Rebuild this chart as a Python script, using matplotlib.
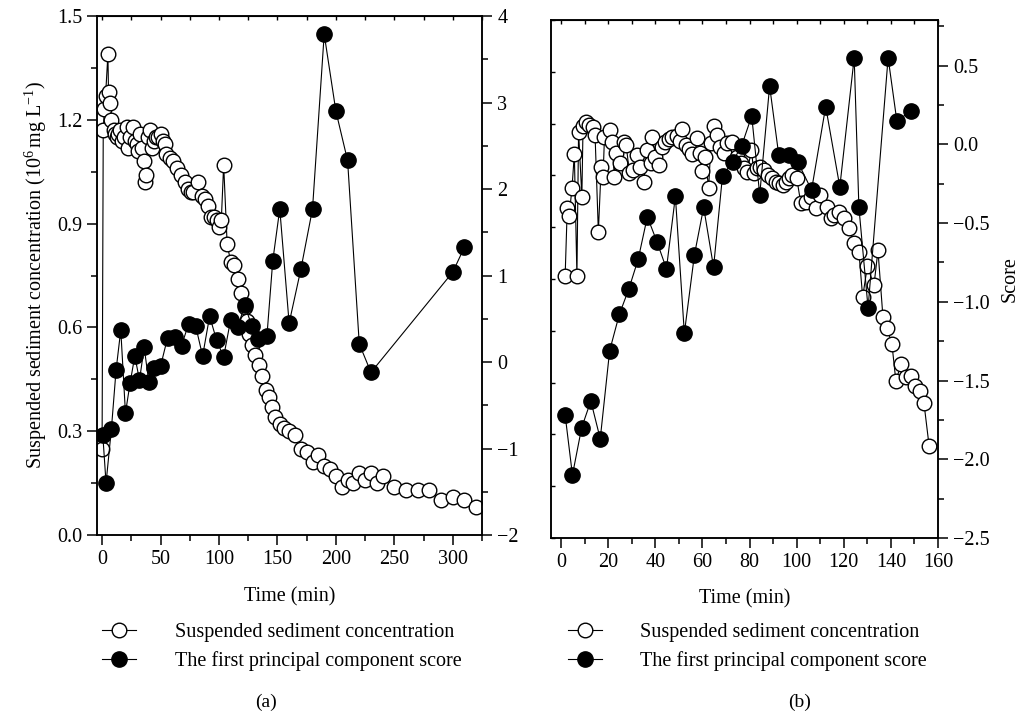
import matplotlib
matplotlib.use('Agg')

import matplotlib.pyplot as plt
from matplotlib.lines import Line2D
from matplotlib.ticker import MultipleLocator, NullFormatter

plt.rcParams['font.family'] = 'serif'
plt.rcParams['font.serif'] = ['Liberation Serif', 'DejaVu Serif']
plt.rcParams['mathtext.fontset'] = 'custom'
plt.rcParams['mathtext.rm'] = 'Liberation Serif'
plt.rcParams['mathtext.it'] = 'Liberation Serif:italic'
plt.rcParams['font.size'] = 14.5

# (a) suspended sediment concentration, 10^6 mg/L
a_ssc_time = [0, 1, 2, 3, 5, 5.5, 7, 8, 10, 11, 12.5, 14, 15.5, 17, 19, 21, 22, 24, 26.5, 28,
              30, 31, 32.5, 34, 36, 37, 38, 39, 41, 42.5, 44, 46.5, 48, 50, 52, 54, 55, 58, 61, 64,
              67.5, 71, 73.5, 76, 78, 82, 85.5, 88, 90.5, 93.5, 96, 98, 100, 102, 104, 107, 110, 113, 116, 119,
              122, 124, 126, 128, 131, 134, 137, 140, 143, 145, 148, 152, 156, 160, 165, 170, 175, 180, 185, 190,
              195, 200, 205, 210, 215, 220, 225, 230, 235, 240, 250, 260, 270, 280, 290, 300, 310, 320]
a_ssc = [0.25, 1.17, 1.23, 1.27, 1.39, 1.28, 1.25, 1.20, 1.17, 1.16, 1.15, 1.16, 1.17, 1.14, 1.15, 1.18, 1.12, 1.15, 1.18, 1.14,
         1.13, 1.11, 1.16, 1.12, 1.08, 1.02, 1.04, 1.15, 1.17, 1.12, 1.14, 1.15, 1.15, 1.16, 1.14, 1.13, 1.10, 1.09, 1.08, 1.06,
         1.04, 1.02, 1.00, 0.99, 0.99, 1.02, 0.98, 0.97, 0.95, 0.92, 0.92, 0.91, 0.89, 0.91, 1.07, 0.84, 0.79, 0.78, 0.74, 0.70,
         0.66, 0.62, 0.58, 0.55, 0.52, 0.49, 0.46, 0.42, 0.40, 0.37, 0.34, 0.32, 0.31, 0.30, 0.29, 0.25, 0.24, 0.21, 0.23, 0.20,
         0.19, 0.17, 0.14, 0.16, 0.15, 0.18, 0.16, 0.18, 0.15, 0.17, 0.14, 0.13, 0.13, 0.13, 0.10, 0.11, 0.10, 0.08]

# (a) first principal component score
a_pc_time = [0.6, 3.4, 8, 12, 16, 20, 24, 28, 32, 36, 40, 44, 50, 56, 62, 68, 74, 80, 86, 92,
             98, 104, 110, 116, 122, 128, 133, 141, 146, 152, 160, 170, 180, 190, 200, 210, 220, 230, 300, 310]
a_pc = [-0.84, -1.40, -0.77, -0.09, 0.37, -0.59, -0.24, 0.07, -0.21, 0.17, -0.23, -0.07, -0.05, 0.28, 0.29, 0.19, 0.44, 0.42, 0.07, 0.53,
        0.25, 0.06, 0.49, 0.40, 0.66, 0.42, 0.27, 0.30, 1.17, 1.77, 0.45, 1.07, 1.77, 3.79, 2.90, 2.33, 0.21, -0.12, 1.04, 1.33]

# (b) suspended sediment concentration (no scale shown)
b_ssc_time = [1.7, 2.6, 3.4, 4.6, 5.6, 6.7, 7.4, 8.8, 9.3, 10.6, 12, 13.7, 14.4, 15.8, 17, 17.8, 18.4, 20.9, 21.6, 22.6,
              23.4, 25.1, 26.5, 27.6, 29, 30.5, 32.3, 33.6, 35, 36.6, 38, 38.7, 40, 41.4, 43, 44.2, 45.6, 47.2, 49, 50.3,
              51.5, 52.8, 54.2, 55.6, 57.5, 58.9, 59.8, 61.2, 62.6, 63.6, 64.8, 66.2, 67.6, 69, 70.5, 72.6, 74.8, 76.2, 77.6, 79,
              80.8, 81.8, 83.2, 84.6, 86, 87.7, 89.7, 91, 92.4, 94, 95.3, 96.6, 98, 100, 101.7, 103.8, 106, 108, 110, 112.8,
              114.5, 115.8, 118, 120, 122, 124.4, 126.4, 128, 130, 132.8, 134.5, 136.6, 138.3, 140.4, 142.1, 144.3, 146.4, 148.5, 150.2, 152.3,
              154, 156.2]
b_ssc = [0.506, 0.637, 0.622, 0.675, 0.741, 0.506, 0.784, 0.659, 0.795, 0.803, 0.797, 0.793, 0.778, 0.591, 0.717, 0.697, 0.775, 0.788, 0.765, 0.697,
         0.743, 0.724, 0.765, 0.759, 0.704, 0.710, 0.739, 0.717, 0.688, 0.749, 0.723, 0.775, 0.735, 0.720, 0.755, 0.765, 0.770, 0.774, 0.776, 0.767,
         0.789, 0.759, 0.751, 0.741, 0.772, 0.743, 0.709, 0.736, 0.675, 0.762, 0.795, 0.778, 0.755, 0.743, 0.762, 0.765, 0.736, 0.723, 0.714, 0.707,
         0.749, 0.704, 0.714, 0.717, 0.710, 0.700, 0.695, 0.687, 0.685, 0.681, 0.687, 0.695, 0.700, 0.695, 0.647, 0.649, 0.658, 0.637, 0.662, 0.639,
         0.618, 0.624, 0.629, 0.618, 0.598, 0.569, 0.552, 0.465, 0.525, 0.488, 0.555, 0.427, 0.405, 0.375, 0.303, 0.336, 0.311, 0.313, 0.293, 0.284,
         0.261, 0.178]

# (b) first principal component score
b_pc_time = [1.7, 4.8, 8.7, 12.6, 16.6, 20.6, 24.7, 28.7, 32.7, 36.6, 40.7, 44.7, 48.5, 52.3, 56.6, 60.5, 64.7, 68.5, 72.8, 76.6,
             80.9, 84.3, 88.5, 92.4, 96.6, 100.4, 106.3, 112.3, 118.3, 124.4, 126.4, 130.3, 138.8, 142.5, 148.5]
b_pc = [-1.72, -2.10, -1.80, -1.63, -1.87, -1.31, -1.08, -0.92, -0.73, -0.46, -0.62, -0.79, -0.33, -1.20, -0.70, -0.40, -0.78, -0.20, -0.11, -0.01,
        0.18, -0.32, 0.37, -0.07, -0.07, -0.11, -0.29, 0.24, -0.27, 0.55, -0.40, -1.04, 0.55, 0.15, 0.21]

open_style = dict(color='black', lw=0.8, marker='o', ms=10.5, mfc='white', mec='black', mew=1.0)
fill_style = dict(color='black', lw=0.8, marker='o', ms=11, mfc='black', mec='black', mew=1.0)

fig = plt.figure(figsize=(10.28, 7.15), dpi=100)


def style_axes(ax, ax2, xmaj, xmin, top_step):
    for a in (ax, ax2):
        for s in a.spines.values():
            s.set_linewidth(1.1)
    ax.xaxis.set_major_locator(MultipleLocator(xmaj))
    ax.xaxis.set_minor_locator(MultipleLocator(xmin))
    ax.tick_params(axis='x', which='major', direction='out', length=7, width=1.1, pad=4)
    ax.tick_params(axis='x', which='minor', direction='out', length=4, width=1.1)
    top = ax.secondary_xaxis('top')
    top.xaxis.set_major_locator(MultipleLocator(top_step))
    top.xaxis.set_major_formatter(NullFormatter())
    top.tick_params(direction='in', length=3, width=1.0)
    ax2.tick_params(axis='y', which='major', direction='out', length=7, width=1.1, pad=4)
    ax2.tick_params(axis='y', which='minor', direction='out', length=4, width=1.1)


# panel (a)
ax_a = fig.add_axes([0.0944, 0.2517, 0.3745, 0.7259])
ax_a.plot(a_ssc_time, a_ssc, **open_style)
ax_a.set_xlim(-4.3, 325)
ax_a.set_ylim(0, 1.5)
ax_a.yaxis.set_major_locator(MultipleLocator(0.3))
ax_a.yaxis.set_minor_locator(MultipleLocator(0.15))
ax_a.tick_params(axis='y', which='major', direction='out', length=7, width=1.1)
ax_a.tick_params(axis='y', which='minor', direction='out', length=4, width=1.1)
ax_a.set_ylabel(r'Suspended sediment concentration ($10^6\,$mg L$^{-1}$)', labelpad=6)
ax_a.set_xlabel('Time (min)', labelpad=13)

ax_a2 = ax_a.twinx()
ax_a2.plot(a_pc_time, a_pc, **fill_style)
ax_a2.set_ylim(-2, 4)
ax_a2.yaxis.set_major_locator(MultipleLocator(1))
ax_a2.yaxis.set_minor_locator(MultipleLocator(0.5))
style_axes(ax_a, ax_a2, 50, 25, 25)

# panel (b)
ax_b = fig.add_axes([0.536, 0.2476, 0.3765, 0.7245])
ax_b.plot(b_ssc_time, b_ssc, **open_style)
ax_b.set_xlim(-4.3, 160)
ax_b.set_ylim(0, 1.0)
ax_b.yaxis.set_major_locator(MultipleLocator(0.1))
ax_b.tick_params(axis='y', direction='in', length=3, width=1.0, labelleft=False)
ax_b.set_xlabel('Time (min)', labelpad=12)

ax_b2 = ax_b.twinx()
ax_b2.plot(b_pc_time, b_pc, **fill_style)
ax_b2.set_ylim(-2.5, 0.79)
ax_b2.yaxis.set_major_locator(MultipleLocator(0.5))
ax_b2.yaxis.set_minor_locator(MultipleLocator(0.25))
ax_b2.set_ylabel('Score', labelpad=8)
style_axes(ax_b, ax_b2, 20, 10, 10)

# legends below each panel
handles = [Line2D([], [], **open_style), Line2D([], [], **fill_style)]
labels = ['Suspended sediment concentration', 'The first principal component score']
for cx in (0.274, 0.727):
    fig.legend(handles, labels, loc='center', bbox_to_anchor=(cx, 0.095), frameon=False,
               handlelength=1.7, handletextpad=1.9, labelspacing=0.45, numpoints=1, fontsize=14.5)

fig.text(0.259, 0.018, '(a)', ha='center', va='center', fontsize=14)
fig.text(0.778, 0.018, '(b)', ha='center', va='center', fontsize=14)

fig.savefig('out.png', dpi=100)
